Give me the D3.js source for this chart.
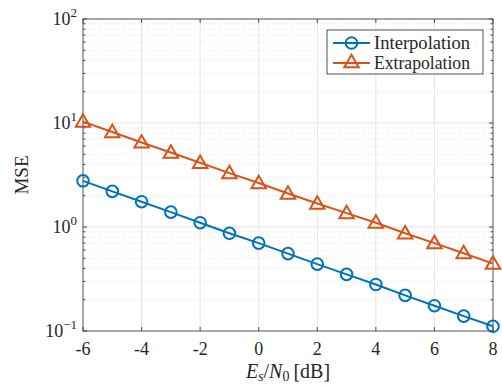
<!DOCTYPE html>
<html>
<head>
<meta charset="utf-8">
<script src="https://cdn.jsdelivr.net/npm/d3@7"></script>
<style>
  body { margin: 0; background: #fff; }
</style>
</head>
<body>
<div id="chart"></div>
<script>
// data
const snr = [-6, -5, -4, -3, -2, -1, 0, 1, 2, 3, 4, 5, 6, 7, 8];
const mseInterp = [2.78, 2.2, 1.75, 1.39, 1.1, 0.87, 0.70, 0.555, 0.44, 0.35, 0.28, 0.22, 0.175, 0.139, 0.111];
const mseExtrap = [10.3, 8.2, 6.5, 5.2, 4.15, 3.3, 2.65, 2.1, 1.68, 1.36, 1.1, 0.87, 0.70, 0.56, 0.445];
const xTicks = [-6, -4, -2, 0, 2, 4, 6, 8];
const yTicks = [0.1, 1, 10, 100];
const yExps = ['\u22121', '0', '1', '2'];
const seriesNames = ['Interpolation', 'Extrapolation'];

const width = 502, height = 385;
const margin = { top: 19, right: 9, bottom: 54, left: 83 };
const blue = '#0072BD', orange = '#D95319', axisColor = '#262626';
const serif = "'Liberation Serif', 'Times New Roman', Times, 'DejaVu Serif', serif";

const svg = d3.select('#chart')
  .append('svg')
  .attr('width', width)
  .attr('height', height)
  .attr('font-family', serif)
  .style('font-family', serif);

const x = d3.scaleLinear().domain([-6, 8]).range([margin.left, width - margin.right]);
const y = d3.scaleLog().domain([0.1, 100]).range([height - margin.bottom, margin.top]);

const x0 = x.range()[0], x1 = x.range()[1];
const yb = y.range()[0], yt = y.range()[1];

// minor values for the log axis
const minor = [];
[0.1, 1, 10].forEach(d => {
  for (let k = 2; k <= 9; k++) minor.push(d * k);
});

// grid
const grid = svg.append('g').attr('class', 'grid');
grid.selectAll('.minor')
  .data(minor)
  .join('line')
  .attr('x1', x0).attr('x2', x1)
  .attr('y1', d => y(d)).attr('y2', d => y(d))
  .attr('stroke', '#d0d0d0')
  .attr('stroke-width', 0.6)
  .attr('stroke-dasharray', '1,2');
grid.selectAll('.hmajor')
  .data(yTicks.slice(1, -1))
  .join('line')
  .attr('x1', x0).attr('x2', x1)
  .attr('y1', d => y(d)).attr('y2', d => y(d))
  .attr('stroke', '#dedede')
  .attr('stroke-width', 0.8);
grid.selectAll('.vmajor')
  .data(xTicks.slice(1, -1))
  .join('line')
  .attr('x1', d => x(d)).attr('x2', d => x(d))
  .attr('y1', yb).attr('y2', yt)
  .attr('stroke', '#dedede')
  .attr('stroke-width', 0.8);

// box and ticks
const ax = svg.append('g').attr('class', 'axes');
ax.append('rect')
  .attr('x', x0).attr('y', yt)
  .attr('width', x1 - x0).attr('height', yb - yt)
  .attr('fill', 'none')
  .attr('stroke', axisColor)
  .attr('stroke-width', 0.8);

xTicks.forEach(d => {
  ax.append('line').attr('x1', x(d)).attr('x2', x(d)).attr('y1', yb).attr('y2', yb - 4)
    .attr('stroke', axisColor).attr('stroke-width', 0.8);
  ax.append('line').attr('x1', x(d)).attr('x2', x(d)).attr('y1', yt).attr('y2', yt + 4)
    .attr('stroke', axisColor).attr('stroke-width', 0.8);
});
yTicks.forEach(d => {
  ax.append('line').attr('x1', x0).attr('x2', x0 + 4).attr('y1', y(d)).attr('y2', y(d))
    .attr('stroke', axisColor).attr('stroke-width', 0.8);
  ax.append('line').attr('x1', x1).attr('x2', x1 - 4).attr('y1', y(d)).attr('y2', y(d))
    .attr('stroke', axisColor).attr('stroke-width', 0.8);
});
minor.forEach(d => {
  ax.append('line').attr('x1', x0).attr('x2', x0 + 2.5).attr('y1', y(d)).attr('y2', y(d))
    .attr('stroke', axisColor).attr('stroke-width', 0.8);
  ax.append('line').attr('x1', x1).attr('x2', x1 - 2.5).attr('y1', y(d)).attr('y2', y(d))
    .attr('stroke', axisColor).attr('stroke-width', 0.8);
});

// tick labels
ax.selectAll('.xlab')
  .data(xTicks)
  .join('text')
  .attr('x', d => x(d))
  .attr('y', yb + 24)
  .attr('text-anchor', 'middle')
  .attr('font-size', 18)
  .attr('fill', axisColor)
  .text(d => String(d));

yTicks.forEach((d, i) => {
  const t = ax.append('text')
    .attr('x', x0 - 6)
    .attr('y', y(d) + 6)
    .attr('text-anchor', 'end')
    .attr('font-size', 18)
    .attr('fill', axisColor);
  t.append('tspan').text('10');
  t.append('tspan').attr('font-size', 13).attr('dy', -8).text(yExps[i]);
});

// axis titles
svg.append('text')
  .attr('transform', `translate(28, ${(yt + yb) / 2}) rotate(-90)`)
  .attr('text-anchor', 'middle')
  .attr('font-size', 19)
  .attr('fill', axisColor)
  .text('MSE');

const xl = svg.append('text')
  .attr('x', (x0 + x1) / 2)
  .attr('y', height - 7)
  .attr('text-anchor', 'middle')
  .attr('font-size', 20)
  .attr('fill', axisColor);
xl.append('tspan').attr('font-style', 'italic').text('E');
xl.append('tspan').attr('font-style', 'italic').attr('font-size', 14).attr('dy', 3).text('s');
xl.append('tspan').attr('dy', -3).text('/');
xl.append('tspan').attr('font-style', 'italic').text('N');
xl.append('tspan').attr('font-size', 14).attr('dy', 3).text('0');
xl.append('tspan').attr('dy', -3).text('\u2009[dB]');

// series
const triangle = d3.symbol().type(d3.symbolTriangle).size(90);
const line = vals => d3.line()
  .x((d, i) => x(snr[i]))
  .y(d => y(d))(vals);

function drawSeries(vals, color, marker) {
  const g = svg.append('g');
  g.append('path')
    .attr('d', line(vals))
    .attr('fill', 'none')
    .attr('stroke', color)
    .attr('stroke-width', 2);
  if (marker === 'o') {
    g.selectAll('circle')
      .data(vals)
      .join('circle')
      .attr('cx', (d, i) => x(snr[i]))
      .attr('cy', d => y(d))
      .attr('r', 5.8)
      .attr('fill', 'none')
      .attr('stroke', color)
      .attr('stroke-width', 2);
  } else {
    g.selectAll('path.m')
      .data(vals)
      .join('path')
      .attr('class', 'm')
      .attr('d', triangle)
      .attr('transform', (d, i) => `translate(${x(snr[i])}, ${y(d) + 1})`)
      .attr('fill', 'none')
      .attr('stroke', color)
      .attr('stroke-width', 2);
  }
}
drawSeries(mseInterp, blue, 'o');
drawSeries(mseExtrap, orange, '^');

// legend
const lg = svg.append('g').attr('class', 'legend');
lg.append('rect')
  .attr('x', 327).attr('y', 30)
  .attr('width', 156).attr('height', 44)
  .attr('fill', '#fff')
  .attr('stroke', axisColor)
  .attr('stroke-width', 0.8);
[[blue, 'o'], [orange, '^']].forEach(([color, m], i) => {
  const ly = 43 + i * 20;
  lg.append('line').attr('x1', 333).attr('x2', 370).attr('y1', ly).attr('y2', ly)
    .attr('stroke', color).attr('stroke-width', 2);
  if (m === 'o') {
    lg.append('circle').attr('cx', 351.5).attr('cy', ly).attr('r', 5.8)
      .attr('fill', 'none').attr('stroke', color).attr('stroke-width', 2);
  } else {
    lg.append('path').attr('d', triangle).attr('transform', `translate(351.5, ${ly})`)
      .attr('fill', 'none').attr('stroke', color).attr('stroke-width', 2);
  }
  lg.append('text')
    .attr('x', 374).attr('y', ly + 5.5)
    .attr('font-size', 18)
    .attr('textLength', 96)
    .attr('lengthAdjust', 'spacingAndGlyphs')
    .attr('fill', axisColor)
    .text(seriesNames[i]);
});
</script>
</body>
</html>
